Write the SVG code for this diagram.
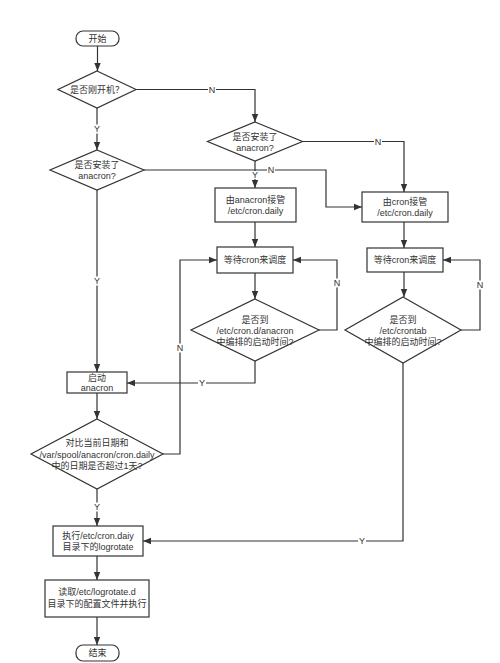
<svg xmlns="http://www.w3.org/2000/svg" width="500" height="663" viewBox="0 0 500 663">
<defs>
<marker id="ah" markerWidth="8" markerHeight="8" viewBox="0 0 8 8" refX="8" refY="4" orient="auto" markerUnits="userSpaceOnUse">
<path d="M0,0.8 L8,4 L0,7.2 Z" fill="#333"/>
</marker>
<style>
.s{fill:#fff;stroke:#333;stroke-width:1.2}
.c{fill:none;stroke:#333;stroke-width:1.2;marker-end:url(#ah)}
text{font-family:"Liberation Sans","Noto Sans CJK SC",sans-serif;font-size:9px;fill:#333;text-anchor:middle;dominant-baseline:central}
.bg{fill:#fff}
</style>
</defs>
<rect width="500" height="663" fill="#fff"/>
<g id="connectors">
<path class="c" d="M97.5,46 V71"/>
<path class="c" d="M136,89.5 H255 V122"/>
<path class="c" d="M97,108 V150"/>
<path class="c" d="M302.5,141.5 H404 V192"/>
<path class="c" d="M144,170 H326 V207 H362"/>
<path class="c" d="M255,161 V188"/>
<path class="c" d="M97,190 V372"/>
<path class="c" d="M255,222 V247"/>
<path class="c" d="M404,222 V248"/>
<path class="c" d="M255,273 V299"/>
<path class="c" d="M404,272 V297"/>
<path class="c" d="M319,330 H337 V260 H293"/>
<path class="c" d="M461,330 H480 V260 H443"/>
<path class="c" d="M163,454 H180 V260 H217"/>
<path class="c" d="M255,361 V383 H127"/>
<path class="c" d="M403,363 V541 H143"/>
<path class="c" d="M97,393 V419"/>
<path class="c" d="M97,489 V526"/>
<path class="c" d="M97,556 V580"/>
<path class="c" d="M97,617 V645"/>
<rect class="bg" x="208" y="85" width="8" height="9"/><text x="212" y="89.5">N</text>
<rect class="bg" x="93" y="124.5" width="8" height="9"/><text x="97" y="129">Y</text>
<rect class="bg" x="374" y="137" width="8" height="9"/><text x="378" y="141.5">N</text>
<rect class="bg" x="251" y="171" width="8" height="8"/><text x="255" y="175">Y</text>
<rect class="bg" x="267" y="165.5" width="8" height="9"/><text x="271" y="170">N</text>
<rect class="bg" x="93" y="276.5" width="8" height="9"/><text x="97" y="281">Y</text>
<rect class="bg" x="333" y="278.5" width="8" height="9"/><text x="337" y="283">N</text>
<rect class="bg" x="476" y="280.5" width="8" height="9"/><text x="480" y="285">N</text>
<rect class="bg" x="176" y="343.5" width="8" height="9"/><text x="180" y="348">N</text>
<rect class="bg" x="198" y="378.5" width="8" height="9"/><text x="202" y="383">Y</text>
<rect class="bg" x="358" y="536.5" width="8" height="9"/><text x="362" y="541">Y</text>
<rect class="bg" x="93" y="502.5" width="8" height="9"/><text x="97" y="507">Y</text>
</g>
<g id="start">
<rect class="s" x="76" y="31" width="43" height="15" rx="7"/>
<text x="97.5" y="38.5">开始</text>
</g>
<g id="d1">
<polygon class="s" points="97,71 136,89.5 97,108 58,89.5"/>
<text x="97" y="90">是否刚开机？</text>
</g>
<g id="d2">
<polygon class="s" points="255,122 302.5,141.5 255,161 207.5,141.5"/>
<text x="255" y="136.5">是否安装了</text>
<text x="255" y="147.5">anacron?</text>
</g>
<g id="d3">
<polygon class="s" points="97,150 144,170 97,190 50,170"/>
<text x="97" y="165">是否安装了</text>
<text x="97" y="176">anacron?</text>
</g>
<g id="boxA">
<rect class="s" x="215" y="188" width="81" height="34"/>
<text x="255.5" y="199.5">由anacron接管</text>
<text x="255.5" y="211">/etc/cron.daily</text>
</g>
<g id="boxB">
<rect class="s" x="362" y="192" width="86" height="30"/>
<text x="405" y="201.5">由cron接管</text>
<text x="405" y="213">/etc/cron.daily</text>
</g>
<g id="waitL">
<rect class="s" x="217" y="247" width="76" height="26"/>
<text x="255" y="260">等待cron来调度</text>
</g>
<g id="waitR">
<rect class="s" x="367" y="248" width="76" height="24"/>
<text x="405" y="260">等待cron来调度</text>
</g>
<g id="d4">
<polygon class="s" points="255,299 319,330 255,361 191,330"/>
<text x="255" y="320">是否到</text>
<text x="255" y="331">/etc/cron.d/anacron</text>
<text x="255" y="342">中编排的启动时间?</text>
</g>
<g id="d6">
<polygon class="s" points="403,297 461,330 403,363 345,330"/>
<text x="403" y="320">是否到</text>
<text x="403" y="331">/etc/crontab</text>
<text x="403" y="342">中编排的启动时间?</text>
</g>
<g id="startAnacron">
<rect class="s" x="67" y="372" width="60" height="21"/>
<text x="97" y="377.5">启动</text>
<text x="97" y="387.5">anacron</text>
</g>
<g id="d5">
<polygon class="s" points="97,419 163,454 97,489 31,454"/>
<text x="97" y="443">对比当前日期和</text>
<text x="97" y="454.5">/var/spool/anacron/cron.daily</text>
<text x="97" y="466">中的日期是否超过1天?</text>
</g>
<g id="exec">
<rect class="s" x="53" y="526" width="90" height="30"/>
<text x="98" y="535.5">执行/etc/cron.daiy</text>
<text x="98" y="547">目录下的logrotate</text>
</g>
<g id="read">
<rect class="s" x="45" y="580" width="104" height="37"/>
<text x="97" y="592">读取/etc/logrotate.d</text>
<text x="97" y="603.5">目录下的配置文件并执行</text>
</g>
<g id="end">
<rect class="s" x="76" y="645" width="43" height="16" rx="7"/>
<text x="97.5" y="653">结束</text>
</g>
</svg>
